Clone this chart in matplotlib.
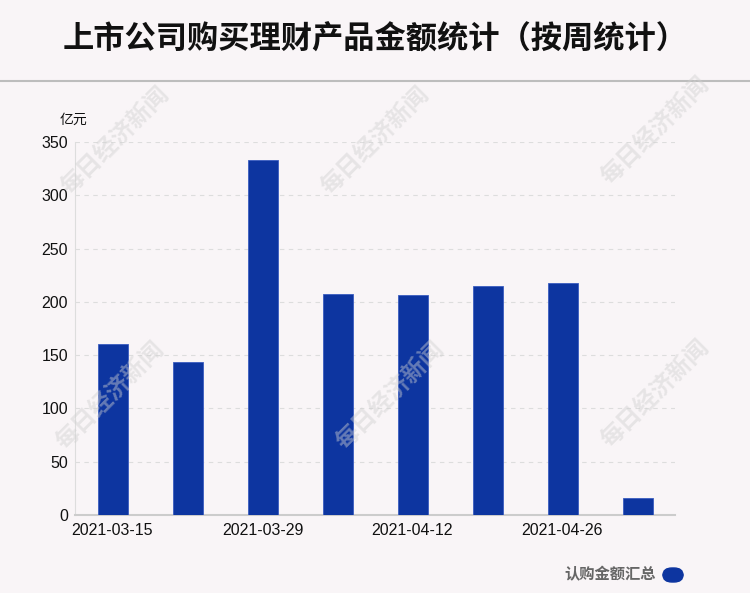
import matplotlib
matplotlib.use('Agg')
import matplotlib.pyplot as plt
from matplotlib.patches import FancyBboxPatch

plt.rcParams['font.family'] = ['Noto Sans CJK SC', 'DejaVu Sans']

# weekly totals, 亿元
weeks = ['2021-03-15', '2021-03-22', '2021-03-29', '2021-04-05',
         '2021-04-12', '2021-04-19', '2021-04-26', '2021-05-03']
amounts = [160, 144, 333, 207, 206, 215, 218, 16]
yticks = [0, 50, 100, 150, 200, 250, 300, 350]

bg = '#f9f5f7'
bar_color = '#0d35a0'

fig = plt.figure(figsize=(7.5, 5.93), dpi=100, facecolor=bg)
W, H = 750, 593

# title + separator line
fig.text(0.5, 1 - 40 / H, '上市公司购买理财产品金额统计（按周统计）', ha='center', va='center',
         fontsize=22.5, fontweight='heavy', color='#111111')
fig.add_artist(plt.Line2D([0, 1], [1 - 81 / H, 1 - 81 / H], color='#bdbdbd', lw=1.5))

ax = fig.add_axes([75 / W, 1 - 515 / H, 600 / W, 373 / H])
ax.set_facecolor(bg)
x = range(len(weeks))
ax.bar(x, amounts, width=0.4, color=bar_color, edgecolor='#3a5cc0', linewidth=0.6, zorder=3)
ax.set_xlim(-0.5, len(weeks) - 0.5)
ax.set_ylim(0, 350)
ax.set_yticks(yticks)
ax.set_xticks(list(x)[::2])
ax.set_xticklabels(weeks[::2])
ax.tick_params(length=0, labelsize=11.5, colors='#111111', pad=5)
ax.tick_params(axis='x', pad=6)
for lab in ax.get_xticklabels() + ax.get_yticklabels():
    lab.set_family('Liberation Sans')
ax.grid(axis='y', color='#dddddd', ls=(0, (4, 4)), lw=0.8, zorder=0)
for s in ['top', 'right']:
    ax.spines[s].set_visible(False)
ax.spines['left'].set_color('#dddddd')
ax.spines['bottom'].set_color('#cccccc')
ax.spines['bottom'].set_linewidth(1.5)

fig.text(60 / W, 1 - 120 / H, '亿元', fontsize=10, va='center', ha='left', color='#111111')

# watermarks
marks = [(115, 140), (375, 140), (655, 130), (110, 395), (390, 395), (655, 393)]
for mx, my in marks:
    fig.text(mx / W, 1 - my / H, '每日经济新闻', rotation=45, ha='center', va='center',
             fontsize=17, fontweight='bold', color='#d0d0d0', alpha=0.45, zorder=10)

# legend
fig.text(656 / W, 1 - 574 / H, '认购金额汇总', ha='right', va='center', fontsize=11,
         fontweight='bold', color='#666666')
fig.add_artist(FancyBboxPatch((663 / W, 1 - 582 / H), 20 / W, 14 / H,
                              boxstyle='round,pad=0,rounding_size=0.012',
                              transform=fig.transFigure, color=bar_color))

fig.savefig('out.png', dpi=100, facecolor=bg)
